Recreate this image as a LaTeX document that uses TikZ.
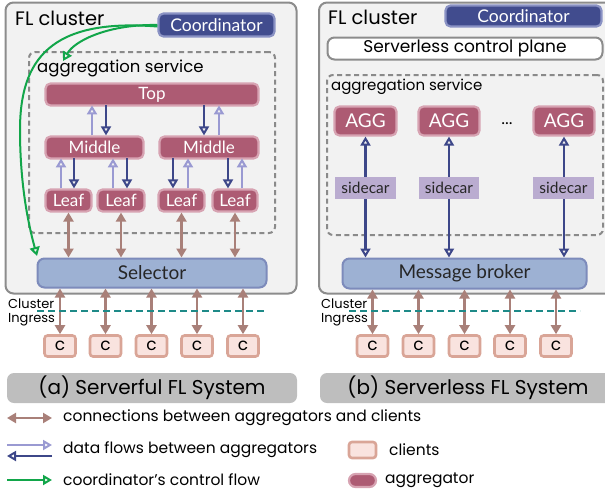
\documentclass[tikz,border=0pt]{standalone}
\usepackage{fontspec}
\setmainfont{Poppins}
\newfontfamily\gill{Lato}
\usetikzlibrary{arrows.meta}
\definecolor{panelfill}{HTML}{F2F2F2}
\definecolor{panelborder}{HTML}{8C8C8C}
\definecolor{dashgray}{HTML}{8A8A8A}
\definecolor{mauve}{HTML}{AD5B73}
\definecolor{mauveborder}{HTML}{D7A3B2}
\definecolor{coordfill}{HTML}{414C8E}
\definecolor{coordborder}{HTML}{8A92C4}
\definecolor{selfill}{HTML}{9DB1D3}
\definecolor{selborder}{HTML}{7D8BBB}
\definecolor{brownc}{HTML}{A98079}
\definecolor{lpurple}{HTML}{9A9AD2}
\definecolor{navy}{HTML}{3D4789}
\definecolor{greenc}{HTML}{12A64A}
\definecolor{clientfill}{HTML}{F9E3DF}
\definecolor{clientborder}{HTML}{D9A597}
\definecolor{sidecarc}{HTML}{BAACD0}
\definecolor{captionfill}{HTML}{BEBEBE}
\definecolor{tealc}{HTML}{1E8A88}
\newcommand{\fs}[1]{\fontsize{#1}{#1}\selectfont}
\tikzset{
  x=1pt, y=-1pt,
  panel/.style={draw=panelborder, fill=panelfill, line width=2pt, rounded corners=8pt, inner sep=0pt},
  dashbox/.style={draw=dashgray, line width=2pt, dash pattern=on 5pt off 3.5pt, rounded corners=6pt, inner sep=0pt},
  aggbox/.style={draw=mauveborder, fill=mauve, line width=2.2pt, rounded corners=5pt, text=white, inner sep=0pt, font=\gill\fs{17}},
  coordbox/.style={draw=coordborder, fill=coordfill, line width=2.2pt, rounded corners=5pt, text=white, inner sep=0pt, font=\gill\fs{17.5}},
  selbox/.style={draw=selborder, fill=selfill, line width=2pt, rounded corners=7pt, text=black!85, inner sep=0pt, font=\gill\fs{19}},
  clientbox/.style={draw=clientborder, fill=clientfill, line width=2.6pt, rounded corners=3pt, inner sep=0pt, font=\fs{17}},
  sidebox/.style={fill=sidecarc, inner sep=0pt, font=\gill\fs{15.5}, text=black!85},
  capbox/.style={fill=captionfill, rounded corners=7pt, inner sep=0pt, font=\fs{20}},
  plainlabel/.style={inner sep=0pt, anchor=west},
  uparr/.style={draw=lpurple, line width=2.2pt, -{Triangle[open, length=9pt, width=10pt, line width=2pt]}},
  downarr/.style={draw=navy, line width=2.2pt, -{Triangle[open, length=9pt, width=10pt, line width=2pt]}},
  bothnavy/.style={draw=navy, line width=2.2pt, {Triangle[open, length=9pt, width=10pt, line width=2pt]}-{Triangle[open, length=9pt, width=10pt, line width=2pt]}},
  brownarr/.style={draw=brownc, line width=2.6pt, {Triangle[length=9pt, width=10pt]}-{Triangle[length=9pt, width=10pt]}},
  greenarr/.style={draw=greenc, line width=2pt, -{Triangle[open, length=9pt, width=10pt, line width=2pt]}},
  ingress/.style={draw=tealc, line width=2.2pt, dash pattern=on 7pt off 4pt},
}
\begin{document}
\begin{tikzpicture}
\useasboundingbox (0,0) rectangle (605,496);
% ================= LEFT PANEL =================
\node[panel, minimum width=291, minimum height=291] (clusterL) at (151,148) {};
\node[plainlabel, font=\fs{19.5}] (flL) at (15,18) {FL cluster};
\node[coordbox, minimum width=116, minimum height=23] (coordL) at (216.5,25) {Coordinator};
\node[dashbox, minimum width=246, minimum height=181] (aggsvcL) at (152,142.5) {};
\node[plainlabel, font=\fs{16.5}] (aggsvcLlab) at (37,68) {aggregation service};
\node[aggbox, minimum width=213, minimum height=22] (top) at (152,94.5) {Top};
\node[aggbox, minimum width=98, minimum height=22] (midL) at (94.5,147.5) {Middle};
\node[aggbox, minimum width=99, minimum height=22] (midR) at (209,147.5) {Middle};
\node[aggbox, minimum width=46, minimum height=22] (leaf1) at (68.5,200.5) {Leaf};
\node[aggbox, minimum width=47, minimum height=22] (leaf2) at (121,200.5) {Leaf};
\node[aggbox, minimum width=46, minimum height=22] (leaf3) at (181.5,200.5) {Leaf};
\node[aggbox, minimum width=45, minimum height=22] (leaf4) at (235,200.5) {Leaf};
\node[selbox, minimum width=229, minimum height=29] (sel) at (152,273) {Selector};
% top-middle flows
\draw[uparr] ([xshift=-2.5]midL.north) -- ++(0,-30);
\draw[downarr] ([xshift=11.5]midL.north) ++(0,-30) -- ([xshift=11.5]midL.north);
\draw[downarr] ([xshift=-5]midR.north) ++(0,-30) -- ([xshift=-5]midR.north);
\draw[uparr] ([xshift=10]midR.north) -- ++(0,-30);
% middle-leaf flows
\draw[uparr] ([xshift=-7.5]leaf1.north) -- ++(0,-30);
\draw[downarr] ([xshift=5.5]leaf1.north) ++(0,-30) -- ([xshift=5.5]leaf1.north);
\draw[uparr] ([xshift=-8]leaf2.north) -- ++(0,-30);
\draw[downarr] ([xshift=6]leaf2.north) ++(0,-30) -- ([xshift=6]leaf2.north);
\draw[downarr] ([xshift=-8.5]leaf3.north) ++(0,-30) -- ([xshift=-8.5]leaf3.north);
\draw[uparr] ([xshift=6.5]leaf3.north) -- ++(0,-30);
\draw[downarr] ([xshift=-7]leaf4.north) ++(0,-30) -- ([xshift=-7]leaf4.north);
\draw[uparr] ([xshift=7]leaf4.north) -- ++(0,-30);
% leaf - selector
\foreach \l in {leaf1,leaf2,leaf3,leaf4}
  \draw[brownarr] (\l.south) -- (\l.south |- sel.north);
% coordinator control flow
\draw[greenarr] (coordL.west) .. controls (110,24) and (75,40) .. (63,61);
\draw[greenarr] ([yshift=-1.5]coordL.west) .. controls (50,18) and (20,60) .. (20,130) .. controls (20,190) and (30,230) .. (37,256);
% clients
\foreach \i/\x in {1/60,2/105.5,3/151.5,4/197,5/243}
  \node[clientbox, minimum width=31, minimum height=21] (cL\i) at (\x,346) {c};
\foreach \i in {1,...,5}
  \draw[brownarr] (cL\i.north |- sel.south) -- (cL\i.north);
\coordinate (ingL1) at (37,311);
\coordinate (ingL2) at (267,311);
\draw[ingress] (ingL1) -- (ingL2);
\node[plainlabel, font=\fs{13}, align=left] (ingLlab) at (8,312.5) {Cluster\\[1pt]Ingress};
\node[capbox, minimum width=290, minimum height=30] (capL) at (152,388) {(a) Serverful FL System};
% ================= RIGHT PANEL =================
\node[panel, minimum width=300, minimum height=291] (clusterR) at (469,148) {};
\node[plainlabel, font=\fs{19.5}] (flR) at (328,17) {FL cluster};
\node[coordbox, minimum width=156, minimum height=21] (coordR) at (523.5,16) {Coordinator};
\node[draw=panelborder, fill=white, line width=2pt, rounded corners=7pt, inner sep=0pt, minimum width=275, minimum height=22, font=\fs{17}] (ctrl) at (465,48.5) {Serverless control plane};
\node[dashbox, minimum width=276, minimum height=160] (aggsvcR) at (465,155) {};
\node[plainlabel, font=\fs{15}] (aggsvcRlab) at (331,87) {aggregation service};
\node[aggbox, minimum width=62, minimum height=29, font=\gill\fs{19}] (agg1) at (365.5,121) {AGG};
\node[aggbox, minimum width=61, minimum height=29, font=\gill\fs{19}] (agg2) at (449,121) {AGG};
\node[aggbox, minimum width=61, minimum height=29, font=\gill\fs{19}] (agg3) at (564,121) {AGG};
\node[inner sep=0pt, font=\gill\fs{16}] (dots) at (507,124) {...};
\node[selbox, minimum width=244, minimum height=30] (broker) at (464.5,273.5) {Message broker};
\foreach \a in {agg1,agg2,agg3}
  \draw[bothnavy] (\a.south) -- (\a.south |- broker.north);
\node[sidebox, minimum width=61, minimum height=22] (sc1) at (365.5,188) {sidecar};
\node[sidebox, minimum width=60, minimum height=22] (sc2) at (449,188) {sidecar};
\node[sidebox, minimum width=61, minimum height=22] (sc3) at (563.5,188) {sidecar};
\foreach \i/\x in {1/372.5,2/418.5,3/464.5,4/510,5/556}
  \node[clientbox, minimum width=31, minimum height=21] (cR\i) at (\x,346) {c};
\foreach \i in {1,...,5}
  \draw[brownarr] (cR\i.north |- broker.south) -- (cR\i.north);
\coordinate (ingR1) at (349,311);
\coordinate (ingR2) at (580,311);
\draw[ingress] (ingR1) -- (ingR2);
\node[plainlabel, font=\fs{13}, align=left] (ingRlab) at (321,312.5) {Cluster\\[1pt]Ingress};
\node[capbox, minimum width=296, minimum height=30] (capR) at (468,388) {(b) Serverless FL System};
% ================= LEGEND =================
\coordinate (lg1a) at (7,418); \coordinate (lg1b) at (52,418);
\draw[brownarr] (lg1a) -- (lg1b);
\node[plainlabel, font=\fs{15.5}] (lgt1) at (63,418) {connections between aggregators and clients};
\coordinate (lg2a) at (7,445); \coordinate (lg2b) at (52,445);
\coordinate (lg3a) at (7,456); \coordinate (lg3b) at (52,456);
\draw[uparr] (lg2a) -- (lg2b);
\draw[downarr] (lg3b) -- (lg3a);
\node[plainlabel, font=\fs{15.5}] (lgt2) at (63,450) {data flows between aggregators};
\node[clientbox, minimum width=27, minimum height=16] (lgclient) at (362.5,450) {};
\node[plainlabel, font=\fs{15.5}] (lgt3) at (389,450) {clients};
\coordinate (lg4a) at (7,480); \coordinate (lg4b) at (52,480);
\draw[greenarr] (lg4a) -- (lg4b);
\node[plainlabel, font=\fs{15.5}] (lgt4) at (63,480) {coordinator’s control flow};
\node[aggbox, minimum width=27, minimum height=13, rounded corners=6.5pt] (lgagg) at (362.5,480.5) {};
\node[plainlabel, font=\fs{15.5}] (lgt5) at (385,480) {aggregator};
\end{tikzpicture}
\end{document}
